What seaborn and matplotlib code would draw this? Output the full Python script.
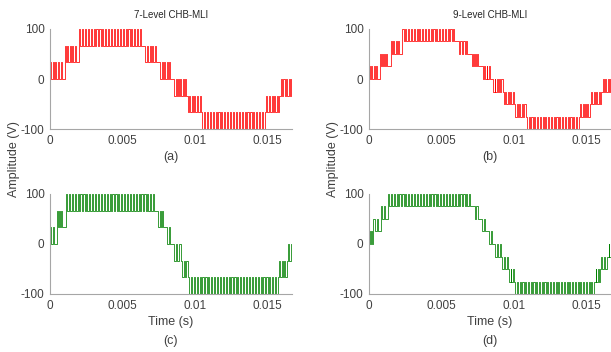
import numpy as np
import pandas as pd
import matplotlib
matplotlib.use('Agg')
import matplotlib.pyplot as plt
import seaborn as sns

# band edges (s), the two levels each band switches between (V), pulses per band
# (a) 7-level, red
a_start = [0, 0.0010, 0.0020, 0.0065, 0.0075, 0.0085, 0.0094, 0.0104, 0.0149, 0.0159]
a_end = [0.00093, 0.0019, 0.0064, 0.0074, 0.0084, 0.0093, 0.0103, 0.0148, 0.0158, 0.0168]
a_low = [0, 33.3, 66.7, 33.3, 0, -33.3, -66.7, -100, -66.7, -33.3]
a_high = [33.3, 66.7, 100, 66.7, 33.3, 0, -33.3, -66.7, -33.3, 0]
a_pulses = [5, 5, 22, 5, 5, 5, 5, 22, 5, 5]

# (b) 9-level, red
b_start = [0, 0.00074, 0.0015, 0.0023, 0.0061, 0.0070, 0.0078, 0.0085, 0.0092, 0.0100, 0.0108, 0.01455, 0.0153, 0.0161]
b_end = [0.00065, 0.0013, 0.0022, 0.0060, 0.0069, 0.0076, 0.0084, 0.0091, 0.0099, 0.0107, 0.01445, 0.0152, 0.0160, 0.0168]
b_low = [0, 25, 50, 75, 50, 25, 0, -25, -50, -75, -100, -75, -50, -25]
b_high = [25, 50, 75, 100, 75, 50, 25, 0, -25, -50, -75, -50, -25, 0]
b_pulses = [4, 4, 4, 19, 4, 4, 4, 4, 4, 4, 19, 4, 4, 4]

# (c) 7-level, green
c_start = [0, 0.00046, 0.0011, 0.0074, 0.0080, 0.00845, 0.0090, 0.0095, 0.0158, 0.0164]
c_end = [0.00037, 0.00093, 0.0073, 0.0079, 0.00838, 0.0089, 0.0094, 0.0157, 0.0163, 0.0168]
c_low = [0, 33.3, 66.7, 33.3, 0, -33.3, -66.7, -100, -66.7, -33.3]
c_high = [33.3, 66.7, 100, 66.7, 33.3, 0, -33.3, -66.7, -33.3, 0]
c_pulses = [2, 3, 31, 3, 2, 2, 2, 31, 3, 2]

# (d) 9-level, green
d_start = [0, 0.0003, 0.00085, 0.0013, 0.0072, 0.0077, 0.0082, 0.0086, 0.0091, 0.0096, 0.0100, 0.0156, 0.0160, 0.0165]
d_end = [0.00028, 0.00074, 0.0012, 0.0071, 0.0076, 0.0081, 0.00858, 0.0090, 0.0095, 0.0099, 0.0155, 0.0159, 0.0164, 0.0168]
d_low = [0, 25, 50, 75, 50, 25, 0, -25, -50, -75, -100, -75, -50, -25]
d_high = [25, 50, 75, 100, 75, 50, 25, 0, -25, -50, -75, -50, -25, 0]
d_pulses = [2, 2, 2, 29, 2, 2, 2, 2, 2, 2, 29, 2, 2, 2]

start_value = {'a': 0, 'b': -25, 'c': 0, 'd': -25}
titles = {'a': '7-Level CHB-MLI', 'b': '9-Level CHB-MLI', 'c': None, 'd': None}
xticks = [0, 0.005, 0.01, 0.015]
xticklabels = ['0', '0.005', '0.01', '0.015']
yticks = [-100, 0, 100]
duty = 0.4


def build_wave(starts, ends, lows, highs, pulses, v0):
    # step change points: each band toggles high/low n times
    t = [0.0]
    v = [v0]
    for t0, t1, lo, hi, n in zip(starts, ends, lows, highs, pulses):
        T = (t1 - t0) / n
        for k in range(n):
            t += [t0 + k * T, t0 + (k + duty) * T]
            v += [hi, lo]
        t.append(t1)
        v.append(hi if hi * lo >= 0 and abs(hi) < abs(lo) else lo)
    return pd.DataFrame({'t': t, 'v': v})


sns.set_style('white')
plt.rcParams['font.family'] = ['Liberation Sans', 'DejaVu Sans']
plt.rcParams['axes.unicode_minus'] = False

fig = plt.figure(figsize=(6.11, 3.52), dpi=100)
W, H = 611, 352

panels = {
    'a': (a_start, a_end, a_low, a_high, a_pulses, 'red', (50, 29)),
    'b': (b_start, b_end, b_low, b_high, b_pulses, 'red', (369, 29)),
    'c': (c_start, c_end, c_low, c_high, c_pulses, '#008000', (50, 194)),
    'd': (d_start, d_end, d_low, d_high, d_pulses, '#008000', (369, 194)),
}

grey = '#a6a6a6'
txt = '#404040'
for key, (st, en, lo, hi, n, col, (px, py)) in panels.items():
    ax = fig.add_axes([px / W, 1 - (py + 100) / H, 242 / W, 100 / H])
    df = build_wave(st, en, lo, hi, n, start_value[key])
    sns.lineplot(data=df, x='t', y='v', ax=ax, estimator=None, sort=False,
                 color=col, linewidth=0.55, drawstyle='steps-post')
    ax.set_xlim(0, 1 / 60)
    ax.set_ylim(-100, 100)
    ax.set_xticks(xticks)
    ax.set_xticklabels(xticklabels)
    ax.set_yticks(yticks)
    ax.set_xlabel('')
    ax.set_ylabel('')
    for s in ['top', 'right']:
        ax.spines[s].set_visible(False)
    for s in ['left', 'bottom']:
        ax.spines[s].set_color(grey)
        ax.spines[s].set_linewidth(0.8)
    ax.tick_params(direction='in', length=2.5, width=0.6, color=grey,
                   labelsize=8.5, labelcolor=txt, pad=4)
    cx = (px + 121) / W
    if titles[key]:
        fig.text(cx, 1 - 15 / H, titles[key], ha='center', va='center',
                 fontsize=7, color='#262626')
        fig.text(cx, 1 - 157 / H, '(%s)' % key, ha='center', va='center',
                 fontsize=9, color=txt)
    else:
        fig.text(cx, 1 - 322 / H, 'Time (s)', ha='center', va='center',
                 fontsize=9, color=txt)
        fig.text(cx, 1 - 341 / H, '(%s)' % key, ha='center', va='center',
                 fontsize=9, color=txt)

fig.text(14 / W, 1 - 159 / H, 'Amplitude (V)', rotation=90, ha='center',
         va='center', fontsize=9, color=txt)
fig.text(333 / W, 1 - 159 / H, 'Amplitude (V)', rotation=90, ha='center',
         va='center', fontsize=9, color=txt)

fig.savefig('out.png', dpi=100)
